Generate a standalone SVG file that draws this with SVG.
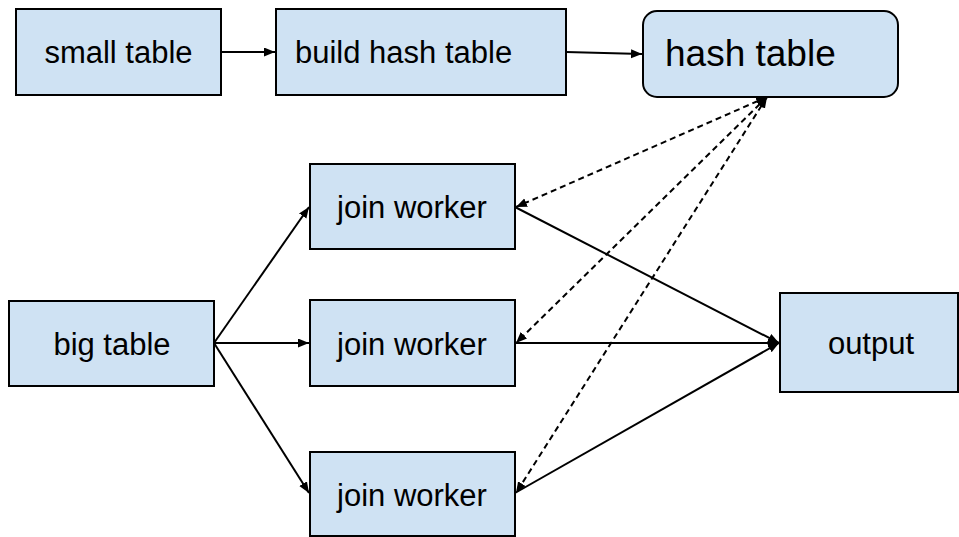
<svg xmlns="http://www.w3.org/2000/svg" width="959" height="537" viewBox="0 0 959 537">
  <style>
    .box { fill: #cfe2f3; stroke: #000; stroke-width: 2; }
    .lbl { font-family: "Liberation Sans", Arial, sans-serif; font-size: 31px; fill: #000; }
    .big { font-size: 37px; }
    .c { text-anchor: middle; }
    .edge { fill: none; stroke: #000; stroke-width: 2; }
    .dash { stroke-dasharray: 6 4; }
  </style>
  <defs>
    <marker id="ah" markerUnits="userSpaceOnUse" markerWidth="12" markerHeight="10" refX="11" refY="4.5" orient="auto-start-reverse" viewBox="0 0 12 10">
      <path d="M0,0 L11,4.5 L0,9 z" fill="#000"/>
    </marker>
  </defs>
  <rect width="959" height="537" fill="#fff"/>

  <g id="connectors">
    <line class="edge" x1="221" y1="52" x2="275" y2="52" marker-end="url(#ah)"/>
    <line class="edge" x1="566" y1="52" x2="642" y2="54" marker-end="url(#ah)"/>
    <line class="edge" x1="214" y1="343" x2="309" y2="207" marker-end="url(#ah)"/>
    <line class="edge" x1="214" y1="343" x2="309" y2="343" marker-end="url(#ah)"/>
    <line class="edge" x1="214" y1="343" x2="309" y2="493" marker-end="url(#ah)"/>
    <line class="edge" x1="515" y1="207" x2="779" y2="343" marker-end="url(#ah)"/>
    <line class="edge" x1="515" y1="343" x2="779" y2="343" marker-end="url(#ah)"/>
    <line class="edge" x1="515" y1="493" x2="779" y2="343" marker-end="url(#ah)"/>
    <line class="edge dash" x1="767" y1="97" x2="516" y2="207" marker-start="url(#ah)" marker-end="url(#ah)"/>
    <line class="edge dash" x1="767" y1="97" x2="516" y2="343" marker-start="url(#ah)" marker-end="url(#ah)"/>
    <line class="edge dash" x1="767" y1="97" x2="516" y2="493" marker-start="url(#ah)" marker-end="url(#ah)"/>
  </g>

  <g id="small-table">
    <rect class="box" x="16" y="9" width="205" height="86"/>
    <text class="lbl c" x="118.5" y="63">small table</text>
  </g>
  <g id="build-hash-table">
    <rect class="box" x="276" y="9" width="290" height="86"/>
    <text class="lbl" x="295" y="63">build hash table</text>
  </g>
  <g id="hash-table">
    <rect class="box" x="643" y="11" width="255" height="86" rx="14" ry="14"/>
    <text class="lbl big" x="665" y="66">hash table</text>
  </g>
  <g id="big-table">
    <rect class="box" x="9" y="301" width="205" height="85"/>
    <text class="lbl c" x="112" y="355">big table</text>
  </g>
  <g id="join-worker-1">
    <rect class="box" x="310" y="164" width="205" height="85"/>
    <text class="lbl c" x="412" y="218">join worker</text>
  </g>
  <g id="join-worker-2">
    <rect class="box" x="310" y="300" width="205" height="86"/>
    <text class="lbl c" x="412" y="355">join worker</text>
  </g>
  <g id="join-worker-3">
    <rect class="box" x="310" y="452" width="205" height="84"/>
    <text class="lbl c" x="412" y="506">join worker</text>
  </g>
  <g id="output">
    <rect class="box" x="780" y="293" width="178" height="99"/>
    <text class="lbl c" x="871" y="354">output</text>
  </g>
</svg>
